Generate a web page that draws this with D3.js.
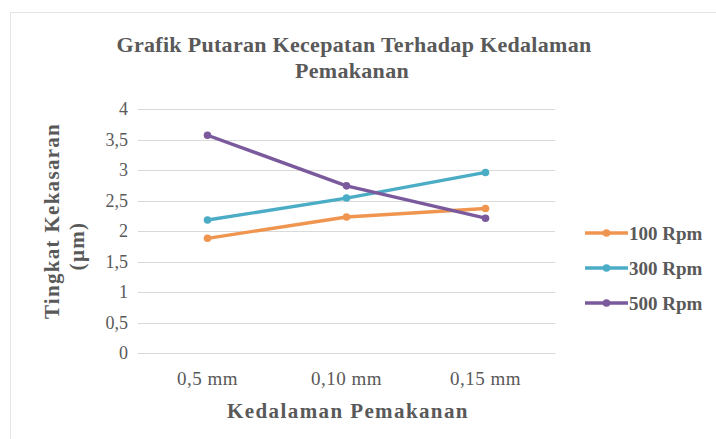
<!DOCTYPE html>
<html>
<head>
<meta charset="utf-8">
<script src="https://cdn.jsdelivr.net/npm/d3@7"></script>
<style>
  body { margin: 0; background: #fff; }
  text { font-family: "Liberation Serif", "DejaVu Serif", serif; fill: #595959; }
</style>
</head>
<body>
<script>
var fullWidth = 716
var fullHeight = 439

// data
var categories = ['0,5 mm', '0,10 mm', '0,15 mm']
var rpm100 = [1.88, 2.23, 2.37]
var rpm300 = [2.18, 2.54, 2.96]
var rpm500 = [3.57, 2.74, 2.21]
var seriesNames = ['100 Rpm', '300 Rpm', '500 Rpm']
var seriesColors = ['#EF9550', '#4BACC6', '#7A5A9C']
var yTicks = [0, 0.5, 1, 1.5, 2, 2.5, 3, 3.5, 4]

var series = [rpm100, rpm300, rpm500]

var plot = { left: 138, right: 555, top: 109, bottom: 353 }

var svg = d3
  .select('body')
  .append('svg')
  .attr('width', fullWidth)
  .attr('height', fullHeight)

// faint chart border
svg.append('rect')
  .attr('x', 10.5).attr('y', 12.5)
  .attr('width', 720).attr('height', 440)
  .attr('fill', 'none')
  .attr('stroke', '#e4e4e4')

var x = d3.scaleBand().domain(categories).range([plot.left, plot.right])
var y = d3.scaleLinear().domain([0, 4]).range([plot.bottom, plot.top])

// gridlines
svg.append('g')
  .selectAll('line')
  .data(yTicks)
  .join('line')
  .attr('x1', plot.left).attr('x2', plot.right)
  .attr('y1', (d) => Math.round(y(d)) + 0.5)
  .attr('y2', (d) => Math.round(y(d)) + 0.5)
  .attr('stroke', '#d9d9d9')
  .attr('stroke-width', 1)

// y axis labels
var yAxis = d3.axisLeft(y)
  .tickValues(yTicks)
  .tickSize(0)
  .tickPadding(0)
  .tickFormat((d) => String(d).replace('.', ','))
var yG = svg.append('g')
  .attr('transform', 'translate(' + 128 + ',0)')
  .call(yAxis)
yG.select('.domain').remove()
yG.selectAll('text')
  .style('font-size', '18px')
  .attr('fill', '#595959')
  .attr('font-family', '"Liberation Serif", serif')

// x axis
var xAxis = d3.axisBottom(x).tickSize(0).tickPadding(19)
var xG = svg.append('g')
  .attr('transform', 'translate(0,' + plot.bottom + ')')
  .call(xAxis)
xG.select('.domain').attr('stroke', '#d9d9d9')
xG.selectAll('text')
  .style('font-size', '19px')
  .style('letter-spacing', '0.5px')
  .attr('fill', '#595959')
  .attr('font-family', '"Liberation Serif", serif')

// lines
var line = d3.line()
  .x((d, i) => x(categories[i]) + x.bandwidth() / 2)
  .y((d) => y(d))

series.forEach((s, k) => {
  svg.append('path')
    .datum(s)
    .attr('d', line)
    .attr('fill', 'none')
    .attr('stroke', seriesColors[k])
    .attr('stroke-width', 3.4)
    .attr('stroke-linejoin', 'round')
  svg.append('g')
    .selectAll('circle')
    .data(s)
    .join('circle')
    .attr('cx', (d, i) => x(categories[i]) + x.bandwidth() / 2)
    .attr('cy', (d) => y(d))
    .attr('r', 3.8)
    .attr('fill', seriesColors[k])
})

// title
var title = svg.append('text')
  .attr('text-anchor', 'middle')
  .style('font-size', '22px')
  .style('font-weight', 'bold')
  .style('letter-spacing', '0.3px')
title.append('tspan').attr('x', 354).attr('y', 52).text('Grafik Putaran Kecepatan Terhadap Kedalaman')
title.append('tspan').attr('x', 352).attr('y', 78).text('Pemakanan')

// y title
var yTitle = svg.append('text')
  .attr('text-anchor', 'middle')
  .attr('transform', 'rotate(-90)')
  .style('font-size', '21px')
  .style('font-weight', 'bold')
  .style('letter-spacing', '1.3px')
yTitle.append('tspan').attr('x', -221).attr('y', 59).text('Tingkat Kekasaran')
yTitle.append('tspan').attr('x', -246).attr('y', 84).text('(\u00b5m)')

// x title
svg.append('text')
  .attr('x', 348)
  .attr('y', 418)
  .attr('text-anchor', 'middle')
  .style('font-size', '21px')
  .style('font-weight', 'bold')
  .style('letter-spacing', '1.4px')
  .text('Kedalaman Pemakanan')

// legend
var legend = svg.append('g')
  .selectAll('g')
  .data(seriesNames)
  .join('g')
  .attr('transform', (d, i) => 'translate(585,' + (233 + i * 35) + ')')
legend.append('line')
  .attr('x1', 0).attr('x2', 43)
  .attr('stroke', (d, i) => seriesColors[i])
  .attr('stroke-width', 3.4)
legend.append('circle')
  .attr('cx', 21.5).attr('r', 3.8)
  .attr('fill', (d, i) => seriesColors[i])
legend.append('text')
  .attr('x', 44)
  .attr('dy', '0.35em')
  .style('font-size', '19px')
  .style('font-weight', 'bold')
  .text((d) => d)
</script>
</body>
</html>
